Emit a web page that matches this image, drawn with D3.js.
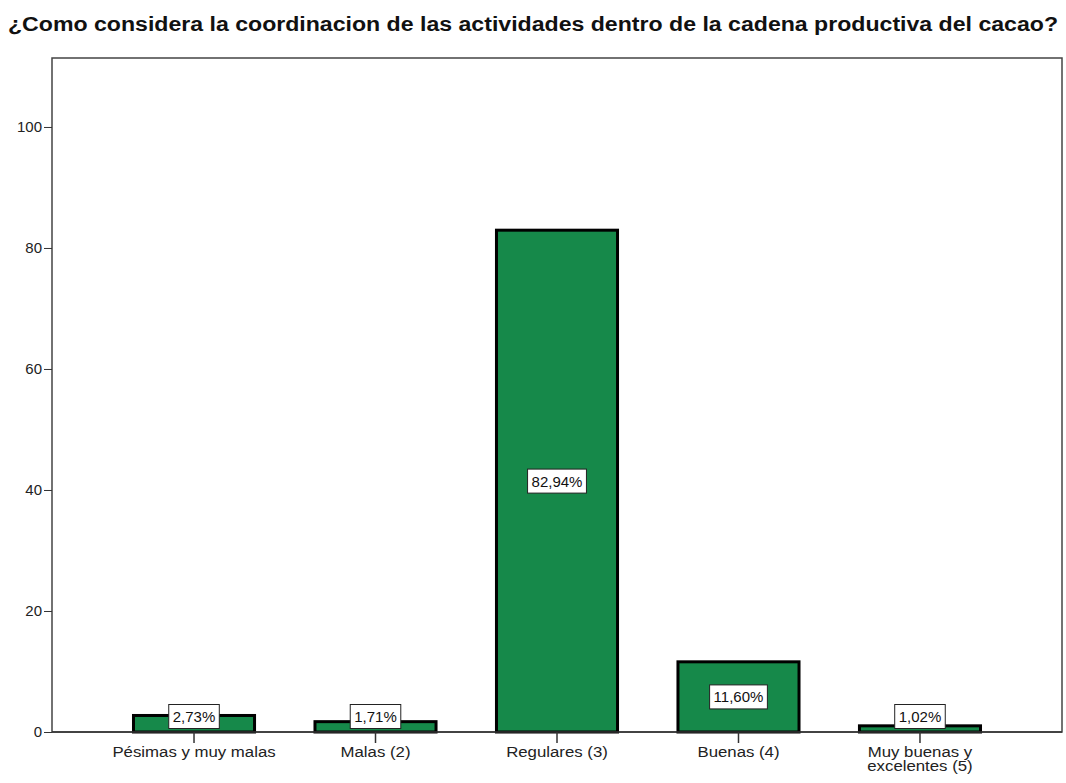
<!DOCTYPE html>
<html>
<head>
<meta charset="utf-8">
<script src="https://cdn.jsdelivr.net/npm/d3@7"></script>
<style>
  body { margin: 0; background: #fff; }
  svg { display: block; font-family: Arial, "Liberation Sans", sans-serif; }
</style>
</head>
<body>
<svg id="chart" width="1066" height="783"></svg>
<script>
// Chart data
const title = "¿Como considera la coordinacion de las actividades dentro de la cadena productiva del cacao?";
const categories = ["Pésimas y muy malas", "Malas (2)", "Regulares (3)", "Buenas (4)", "Muy buenas y\nexcelentes (5)"];
const percents = [2.73, 1.71, 82.94, 11.60, 1.02];
const yTicks = [0, 20, 40, 60, 80, 100];

const svg = d3.select("#chart");
const margin = { left: 52, right: 4, top: 58, bottom: 51 };
const W = 1066, H = 783;
const x0 = margin.left, x1 = W - margin.right;
const yBottom = H - margin.bottom, yTop = margin.top;

const x = d3.scaleBand()
  .domain(categories)
  .range([x0, x1])
  .paddingInner(0.333)
  .paddingOuter(0.449);

const y = d3.scaleLinear()
  .domain([0, 111.4])
  .range([yBottom, yTop]);

// Title
svg.append("text")
  .attr("x", 8).attr("y", 31)
  .attr("font-size", 20).attr("font-weight", "bold")
  .attr("textLength", 1050)
  .attr("lengthAdjust", "spacingAndGlyphs")
  .attr("fill", "#111")
  .text(title);

// Plot frame
svg.append("rect")
  .attr("x", x0).attr("y", yTop)
  .attr("width", x1 - x0).attr("height", yBottom - yTop)
  .attr("fill", "#fff").attr("stroke", "#444").attr("stroke-width", 1.5);

// Y axis
const yAxis = svg.append("g")
  .attr("transform", `translate(${x0},0)`)
  .call(d3.axisLeft(y).tickValues(yTicks).tickSize(8).tickPadding(2).tickFormat(d3.format("d")));
yAxis.select(".domain").remove();
yAxis.selectAll("line").attr("stroke", "#333");
yAxis.selectAll("text").attr("font-size", 15).attr("fill", "#222").attr("font-family", "Arial, 'Liberation Sans', sans-serif");

// Bars
svg.append("g").selectAll("rect")
  .data(categories)
  .join("rect")
  .attr("x", d => x(d))
  .attr("y", (d, i) => y(percents[i]))
  .attr("width", x.bandwidth())
  .attr("height", (d, i) => y(0) - y(percents[i]))
  .attr("fill", "#16894a")
  .attr("stroke", "#000")
  .attr("stroke-width", 3);

// X axis (baseline, ticks and category labels)
svg.append("line")
  .attr("x1", x0).attr("x2", x1)
  .attr("y1", yBottom).attr("y2", yBottom)
  .attr("stroke", "#333").attr("stroke-width", 1.5);

const xg = svg.append("g").selectAll("g")
  .data(categories)
  .join("g")
  .attr("transform", d => `translate(${x(d) + x.bandwidth() / 2},${yBottom})`);
xg.append("line").attr("y1", 0).attr("y2", 11).attr("stroke", "#333").attr("stroke-width", 1.5);
xg.append("text")
  .attr("text-anchor", "middle")
  .attr("font-size", 15)
  .attr("fill", "#222")
  .attr("transform", "scale(1.12,1)")
  .selectAll("tspan")
  .data(d => d.split("\n"))
  .join("tspan")
  .attr("x", 0)
  .attr("y", (d, i) => 25 + i * 14)
  .text(d => d);

// Value labels
const fmt = v => v.toFixed(2).replace(".", ",") + "%";
const lab = svg.append("g").selectAll("g")
  .data(categories)
  .join("g")
  .attr("transform", (d, i) => {
    const mid = (y(0) + y(percents[i])) / 2;
    const cy = Math.min(mid, yBottom - 15.5);
    return `translate(${x(d) + x.bandwidth() / 2},${cy})`;
  });
const boxes = lab.append("rect")
  .attr("fill", "#fff").attr("stroke", "#222").attr("stroke-width", 1);
const texts = lab.append("text")
  .attr("text-anchor", "middle")
  .attr("dy", "0.36em")
  .attr("font-size", 15)
  .attr("fill", "#111")
  .text((d, i) => fmt(percents[i]));
texts.each(function (d, i) {
  const w = this.getComputedTextLength();
  d3.select(boxes.nodes()[i])
    .attr("x", -w / 2 - 4).attr("y", -12)
    .attr("width", w + 8).attr("height", 24);
});
</script>
</body>
</html>
